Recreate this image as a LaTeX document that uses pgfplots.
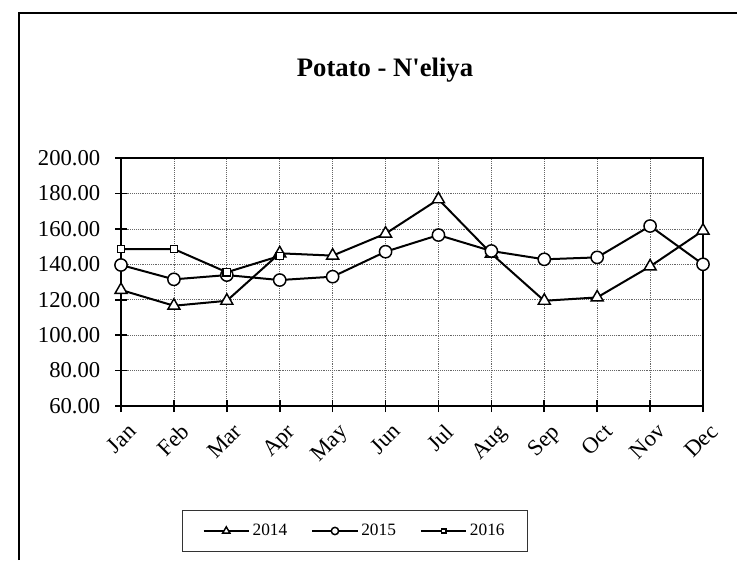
\documentclass[border=0pt]{standalone}
\usepackage{pgfplots}
\pgfplotsset{compat=1.18}
\usepackage{fontspec}
\setmainfont{Liberation Serif}

% data
\pgfplotstableread{
m   y2014  y2015
0   125.5  139.6
1   116.6  131.5
2   119.4  133.9
3   146.2  131.1
4   144.9  133.0
5   157.3  147.1
6   176.7  156.5
7   146.0  147.5
8   119.4  142.8
9   121.3  143.9
10  138.8  161.6
11  159.0  140.0
}\potato
\pgfplotstableread{
m   y2016
0   148.6
1   148.6
2   135.5
3   144.7
}\potatob

\begin{document}
\begin{tikzpicture}
\useasboundingbox (0,0) rectangle (552.75pt,420pt);
\draw[line width=1.5pt] (14.6pt,0pt) -- (14.6pt,410.25pt) -- (552.75pt,410.25pt);
\node[font=\fontsize{20}{24}\selectfont\bfseries] at (288.75pt,367.5pt) {Potato - N\textquotesingle eliya};
\begin{axis}[
  at={(90.75pt,115.5pt)}, anchor=south west,
  scale only axis, width=436.5pt, height=186pt,
  xmin=0, xmax=11, ymin=60, ymax=200,
  xtick={0,...,11},
  xticklabels={Jan,Feb,Mar,Apr,May,Jun,Jul,Aug,Sep,Oct,Nov,Dec},
  ytick={60,80,...,200},
  yticklabel style={xshift=-7.5pt,/pgf/number format/.cd,fixed,fixed zerofill,precision=2},
  /pgf/number format/assume math mode=true,
  xtick pos=left, ytick pos=left,
  tick align=center, major tick length=9pt,
  tick style={black,line width=1.2pt},
  axis line style={line width=1.2pt},
  grid=major, grid style={densely dotted,black!60,line width=0.5pt},
  ticklabel style={font=\fontsize{17}{17}\selectfont},
  xticklabel style={rotate=45,anchor=north east,xshift=1pt,yshift=-5pt},
  clip=false,
  every axis plot/.append style={line width=1.5pt,black},
  legend columns=3,
  legend style={at={(0.402,-0.504)},anchor=center,draw=black!80,line width=0.6pt,
    font=\fontsize{13}{13}\selectfont,inner xsep=15pt,inner ysep=8pt,
    /tikz/every even column/.append style={column sep=16pt}},
  legend image code/.code={
    \draw[mark repeat=2,mark phase=2,line width=1.5pt,every mark/.append style={scale=0.6}]
      plot coordinates {(0pt,0pt) (17pt,0pt) (34pt,0pt)};},
]
\addplot[mark=triangle*,mark size=5.2pt,mark options={fill=white,line width=1.1pt}] table[x=m,y=y2014] {\potato};
\addlegendentry{2014}
\addplot[mark=*,mark size=4.6pt,mark options={fill=white,line width=1.1pt}] table[x=m,y=y2015] {\potato};
\addlegendentry{2015}
\addplot[mark=square*,mark size=2.7pt,mark options={fill=white,line width=1.1pt}] table[x=m,y=y2016] {\potatob};
\addlegendentry{2016}
\end{axis}
\end{tikzpicture}
\end{document}
